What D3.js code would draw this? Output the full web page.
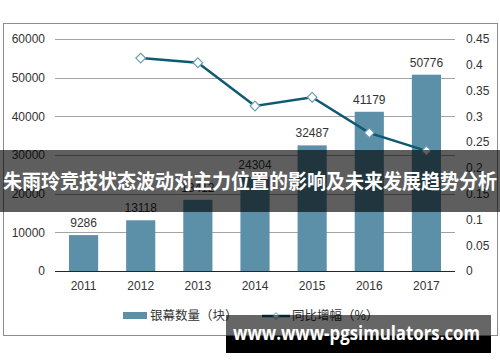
<!DOCTYPE html>
<html>
<head>
<meta charset="utf-8">
<script src="https://cdn.jsdelivr.net/npm/d3@7"></script>
<style>
  html, body { margin: 0; padding: 0; background: #fff; }
  svg { display: block; }
</style>
</head>
<body>
<div id="chart"></div>
<script>
// data
var years = ["2011", "2012", "2013", "2014", "2015", "2016", "2017"];
var screens = [9286, 13118, 18412, 24304, 32487, 41179, 50776];
var growth = [null, 0.413, 0.404, 0.32, 0.337, 0.268, 0.233];
var leftTicks = [0, 10000, 20000, 30000, 40000, 50000, 60000];
var rightTicks = [0, 0.05, 0.1, 0.15, 0.2, 0.25, 0.3, 0.35, 0.4, 0.45];
var legendNames = ["银幕数量（块）", "同比增幅（%）"];
var titleText = "朱雨玲竞技状态波动对主力位置的影响及未来发展趋势分析";
var siteText = "www.www-pgsimulators.com";

var barColor = "#5b90a8";
var lineColor = "#0e5a72";
var textColor = "#333";
var numFont = "'Liberation Sans', Arial, sans-serif";
var cjkFont = "'Noto Sans CJK SC', 'Liberation Sans', sans-serif";

var W = 500, H = 362;
var plot = { left: 55, right: 455, top: 39, bottom: 271 };

var svg = d3.select("#chart").append("svg").attr("width", W).attr("height", H);

// frame
svg.append("rect")
    .attr("x", 3.5).attr("y", 23.5)
    .attr("width", 494).attr("height", 312)
    .attr("fill", "#fff")
    .attr("stroke", "#8c8c8c");

var x = d3.scaleBand().domain(years).range([plot.left, plot.right]).paddingInner(0.49).paddingOuter(0.245);
var yL = d3.scaleLinear().domain([0, 60000]).range([plot.bottom, plot.top]);
var yR = d3.scaleLinear().domain([0, 0.45]).range([plot.bottom, plot.top]);

// grid
svg.append("g").selectAll("line").data(leftTicks.slice(1)).enter().append("line")
    .attr("x1", plot.left).attr("x2", plot.right)
    .attr("y1", d => Math.round(yL(d)) + 0.5).attr("y2", d => Math.round(yL(d)) + 0.5)
    .attr("stroke", "#a3a3a3");

// left axis
var axisL = svg.append("g").attr("transform", "translate(" + (plot.left - 10) + ",0)")
    .call(d3.axisLeft(yL).tickValues(leftTicks).tickSize(0).tickPadding(0).tickFormat(d3.format("d")));
axisL.select(".domain").remove();
axisL.selectAll("text").attr("font-family", numFont).attr("font-size", 12).attr("fill", textColor);

// right axis
var axisR = svg.append("g").attr("transform", "translate(" + (plot.right + 11) + ",0)")
    .call(d3.axisRight(yR).tickValues(rightTicks).tickSize(0).tickPadding(0).tickFormat(d => String(+d.toFixed(2))));
axisR.select(".domain").remove();
axisR.selectAll("text").attr("font-family", numFont).attr("font-size", 12).attr("fill", textColor);

// bars
svg.append("g").selectAll("rect").data(screens).enter().append("rect")
    .attr("x", (d, i) => x(years[i]))
    .attr("width", x.bandwidth())
    .attr("y", d => yL(d))
    .attr("height", d => yL(0) - yL(d))
    .attr("fill", barColor);

svg.append("g").selectAll("text").data(screens).enter().append("text")
    .attr("x", (d, i) => x(years[i]) + x.bandwidth() / 2)
    .attr("y", d => yL(d) - 8)
    .attr("text-anchor", "middle")
    .attr("font-family", numFont).attr("font-size", 12).attr("fill", textColor)
    .text(d => d);

// baseline
svg.append("line")
    .attr("x1", plot.left).attr("x2", plot.right)
    .attr("y1", plot.bottom + 0.5).attr("y2", plot.bottom + 0.5)
    .attr("stroke", "#262626");

// x labels
var axisB = svg.append("g").attr("transform", "translate(0," + (plot.bottom + 10) + ")")
    .call(d3.axisBottom(x).tickSize(0).tickPadding(0));
axisB.select(".domain").remove();
axisB.selectAll("text").attr("font-family", numFont).attr("font-size", 12).attr("fill", textColor);

// growth line
var pts = growth.map((g, i) => ({ year: years[i], g: g })).filter(d => d.g !== null);
var line = d3.line().x(d => x(d.year) + x.bandwidth() / 2).y(d => yR(d.g));
svg.append("path").datum(pts)
    .attr("d", line)
    .attr("fill", "none")
    .attr("stroke", lineColor)
    .attr("stroke-width", 2.5);

var diamond = d3.symbol().type(d3.symbolDiamond2).size(60);
svg.append("g").selectAll("path").data(pts).enter().append("path")
    .attr("d", diamond)
    .attr("transform", d => "translate(" + (x(d.year) + x.bandwidth() / 2) + "," + yR(d.g) + ")")
    .attr("fill", "#fff")
    .attr("stroke", "#6b9db3")
    .attr("stroke-width", 1.2);

// legend
var lg = svg.append("g");
lg.append("rect").attr("x", 123).attr("y", 312).attr("width", 24).attr("height", 7).attr("fill", barColor);
lg.append("text").attr("x", 150).attr("y", 320)
    .attr("font-family", cjkFont).attr("font-size", 12.5).attr("fill", textColor)
    .text(legendNames[0]);
lg.append("line").attr("x1", 262).attr("x2", 290).attr("y1", 316).attr("y2", 316)
    .attr("stroke", lineColor).attr("stroke-width", 2.5);
lg.append("path").attr("d", d3.symbol().type(d3.symbolDiamond2).size(28))
    .attr("transform", "translate(276,316)")
    .attr("fill", "#fff").attr("stroke", "#6b9db3");
lg.append("text").attr("x", 292).attr("y", 320)
    .attr("font-family", cjkFont).attr("font-size", 12.5).attr("fill", textColor)
    .text(legendNames[1]);

// title banner
svg.append("rect").attr("x", 0).attr("y", 150).attr("width", W).attr("height", 62)
    .attr("fill", "rgba(0,0,0,0.63)");
svg.append("text").attr("x", W / 2).attr("y", 189)
    .attr("text-anchor", "middle")
    .attr("font-family", cjkFont).attr("font-size", 20).attr("font-weight", "bold")
    .attr("fill", "#fff")
    .attr("textLength", 494).attr("lengthAdjust", "spacingAndGlyphs")
    .text(titleText);

// site watermark
svg.append("rect").attr("x", 226).attr("y", 315).attr("width", 265).attr("height", 21)
    .attr("fill", "rgba(0,0,0,0.6)");
svg.append("rect").attr("x", 226).attr("y", 336).attr("width", 265).attr("height", 17)
    .attr("fill", "#000");
svg.append("text").attr("x", 233).attr("y", 340)
    .attr("font-family", "'Open Sans', 'Noto Sans', sans-serif").attr("font-size", 19).attr("font-weight", "bold")
    .attr("fill", "#fff")
    .attr("textLength", 247).attr("lengthAdjust", "spacingAndGlyphs")
    .text(siteText);
</script>
</body>
</html>
